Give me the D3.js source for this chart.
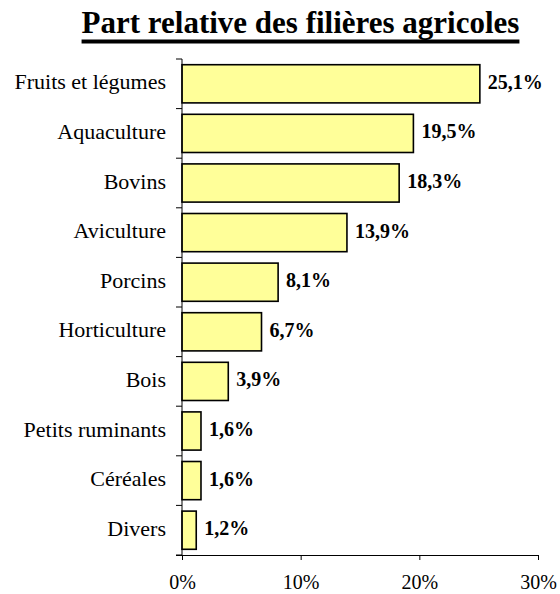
<!DOCTYPE html>
<html>
<head>
<meta charset="utf-8">
<script src="https://cdn.jsdelivr.net/npm/d3@7"></script>
<style>
  body { margin: 0; background: #fff; }
  svg { display: block; }
</style>
</head>
<body>
<script>
'use strict';

// chart data
const categories = ["Fruits et légumes", "Aquaculture", "Bovins", "Aviculture", "Porcins",
  "Horticulture", "Bois", "Petits ruminants", "Céréales", "Divers"]
const values = [25.1, 19.5, 18.3, 13.9, 8.1, 6.7, 3.9, 1.6, 1.6, 1.2]
const xTicks = [0, 10, 20, 30]
const title = "Part relative des filières agricoles"

const m = { width: 560, height: 594, left: 182, right: 538, top: 59, bottom: 555 }
const serif = '"Liberation Serif", "Times New Roman", serif'

const svg = d3.select('body')
  .append('svg')
  .attr('width', m.width)
  .attr('height', m.height)

// title with underline
const t = svg.append('text')
  .attr('x', 300.5)
  .attr('y', 33)
  .attr('text-anchor', 'middle')
  .style('font-family', serif)
  .style('font-weight', 'bold')
  .style('font-size', '31px')
  .text(title)
const bb = t.node().getBBox()
svg.append('rect')
  .attr('x', bb.x)
  .attr('y', 39.5)
  .attr('width', bb.width)
  .attr('height', 4)
  .attr('fill', '#000')

const x = d3.scaleLinear().domain([0, 30]).range([m.left, m.right])
const y = d3.scaleBand().domain(categories).range([m.top, m.bottom]).paddingInner(0.23).paddingOuter(0.115)

// bars
svg.selectAll('rect.bar')
  .data(values)
  .enter()
  .append('rect')
  .attr('class', 'bar')
  .attr('x', x(0))
  .attr('y', (d, i) => y(categories[i]))
  .attr('width', d => x(d) - x(0))
  .attr('height', y.bandwidth())
  .attr('fill', '#FFFF99')
  .attr('stroke', '#000')
  .attr('stroke-width', 1.6)

// value labels
svg.selectAll('text.val')
  .data(values)
  .enter()
  .append('text')
  .attr('class', 'val')
  .attr('x', d => x(d) + 8)
  .attr('y', (d, i) => y(categories[i]) + y.bandwidth() / 2 + 5)
  .style('font-family', serif)
  .style('font-weight', 'bold')
  .style('font-size', '20px')
  .text(d => d.toFixed(1).replace('.', ',') + '%')

// y axis: line, ticks between bands, labels
const step = (m.bottom - m.top) / categories.length
svg.append('line')
  .attr('x1', m.left).attr('x2', m.left)
  .attr('y1', m.top).attr('y2', m.bottom)
  .attr('stroke', '#000')
d3.range(categories.length + 1).forEach(i => {
  svg.append('line')
    .attr('x1', m.left - 6).attr('x2', m.left)
    .attr('y1', m.top + i * step).attr('y2', m.top + i * step)
    .attr('stroke', '#000')
})
svg.selectAll('text.cat')
  .data(categories)
  .enter()
  .append('text')
  .attr('class', 'cat')
  .attr('x', 166)
  .attr('y', d => y(d) + y.bandwidth() / 2 + 5.5)
  .attr('text-anchor', 'end')
  .style('font-family', serif)
  .style('font-size', '22px')
  .text(d => d)

// x axis
const xAxis = d3.axisBottom(x)
  .tickValues(xTicks)
  .tickSize(5)
  .tickSizeOuter(0)
  .tickPadding(15)
  .tickFormat(d => d + '%')
const gx = svg.append('g')
  .attr('transform', 'translate(0,' + m.bottom + ')')
  .call(xAxis)
gx.select('.domain').attr('d', 'M' + (m.left - 6) + ',0.5H' + m.right)
gx.selectAll('text')
  .style('font-family', serif)
  .style('font-size', '20px')
  .attr('fill', '#000')
</script>
</body>
</html>
